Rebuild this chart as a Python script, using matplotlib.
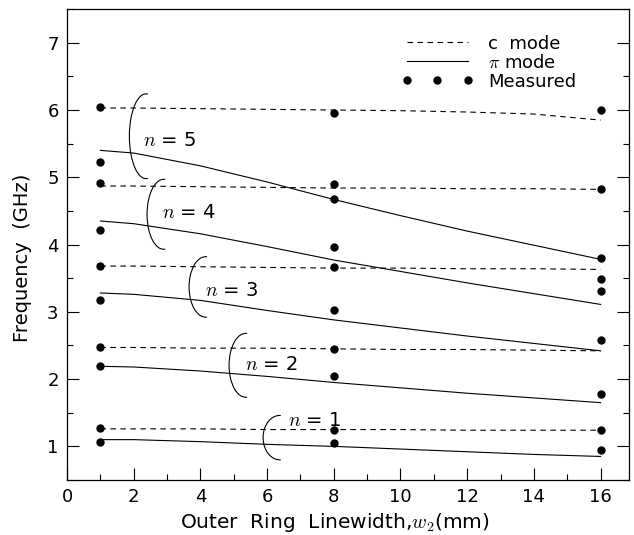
import matplotlib
matplotlib.use("Agg")
import matplotlib.pyplot as plt
from matplotlib.patches import Arc

plt.rcParams['font.family'] = ['DejaVu Sans']
plt.rcParams['mathtext.fontset'] = 'cm'

# theory curves (sampled along w2)
w2 = [1, 2, 4, 6, 8, 10, 12, 14, 16]

c_mode = {
    5: [6.03, 6.03, 6.02, 6.01, 6.00, 5.99, 5.97, 5.94, 5.85],
    4: [4.87, 4.87, 4.86, 4.85, 4.84, 4.84, 4.83, 4.83, 4.82],
    3: [3.68, 3.68, 3.67, 3.66, 3.65, 3.65, 3.64, 3.64, 3.63],
    2: [2.47, 2.47, 2.46, 2.46, 2.45, 2.44, 2.44, 2.43, 2.42],
    1: [1.26, 1.26, 1.26, 1.25, 1.25, 1.25, 1.24, 1.24, 1.24],
}
pi_mode = {
    5: [5.40, 5.36, 5.17, 4.93, 4.67, 4.43, 4.20, 3.99, 3.78],
    4: [4.35, 4.31, 4.16, 3.97, 3.77, 3.60, 3.43, 3.27, 3.11],
    3: [3.28, 3.26, 3.17, 3.02, 2.88, 2.76, 2.64, 2.53, 2.42],
    2: [2.19, 2.18, 2.12, 2.04, 1.95, 1.87, 1.79, 1.72, 1.65],
    1: [1.10, 1.10, 1.07, 1.03, 1.00, 0.96, 0.92, 0.88, 0.85],
}

# measured points
meas_x = [1] * 10 + [8] * 10 + [16] * 9
meas_y = [6.04, 5.22, 4.92, 4.21, 3.68, 3.17, 2.48, 2.19, 1.27, 1.06,
          5.96, 4.90, 4.67, 3.96, 3.66, 3.02, 2.45, 2.05, 1.24, 1.05,
          6.00, 4.83, 3.80, 3.49, 3.31, 2.58, 1.78, 1.25, 0.94]

# bracket + label for each n: (arc centre x, y bottom, y top, label x, label y)
brackets = {
    5: (2.37, 4.98, 6.24, 2.28, 5.55),
    4: (2.90, 3.93, 4.97, 2.86, 4.47),
    3: (4.16, 2.92, 3.82, 4.13, 3.31),
    2: (5.36, 1.73, 2.68, 5.33, 2.21),
    1: (6.38, 0.80, 1.46, 6.63, 1.38),
}

fig = plt.figure(figsize=(6.34, 5.35), dpi=100)
ax = fig.add_axes([0.1057, 0.1028, 0.8863, 0.8802])

for n in [5, 4, 3, 2, 1]:
    ax.plot(w2, c_mode[n], color='black', lw=0.8, dashes=(5, 4),
            label='c  mode' if n == 5 else None)
    ax.plot(w2, pi_mode[n], color='black', lw=0.8,
            label=r'$\pi$ mode' if n == 5 else None)

ax.plot(meas_x, meas_y, 'o', color='black', ms=5, label='Measured')

for n, (cx, yb, yt, lx, ly) in brackets.items():
    ax.add_patch(Arc((cx, (yb + yt) / 2), 1.0, yt - yb, theta1=85, theta2=275,
                     color='black', lw=0.8))
    ax.text(lx, ly, r'$n$ = %d' % n, fontsize=14, va='center', ha='left')

ax.set_xlim(0, 16.85)
ax.set_ylim(0.5, 7.5)
ax.set_xticks(range(0, 17, 2))
ax.set_xticks(range(0, 17), minor=True)
ax.set_yticks(range(1, 8))
ax.set_yticks([0.5 + i for i in range(8)], minor=True)
ax.tick_params(axis='both', which='major', direction='in', length=8.5,
               width=0.8, labelsize=13, right=True, pad=6)
ax.tick_params(axis='both', which='minor', direction='in', length=4.5,
               width=0.8, right=True)
for s in ax.spines.values():
    s.set_linewidth(0.9)

ax.set_xlabel(r'Outer  Ring  Linewidth,$w_2$(mm)', fontsize=14.5)
ax.set_ylabel('Frequency  (GHz)', fontsize=14)
ax.xaxis.set_label_coords(0.477, -0.066)
ax.yaxis.set_label_coords(-0.062, 0.471)

leg = ax.legend(loc='upper right', bbox_to_anchor=(0.935, 0.98), frameon=False,
                fontsize=13, handlelength=4.0, handletextpad=0.8,
                labelspacing=0.05, numpoints=3)

fig.savefig('out.png', dpi=100)
